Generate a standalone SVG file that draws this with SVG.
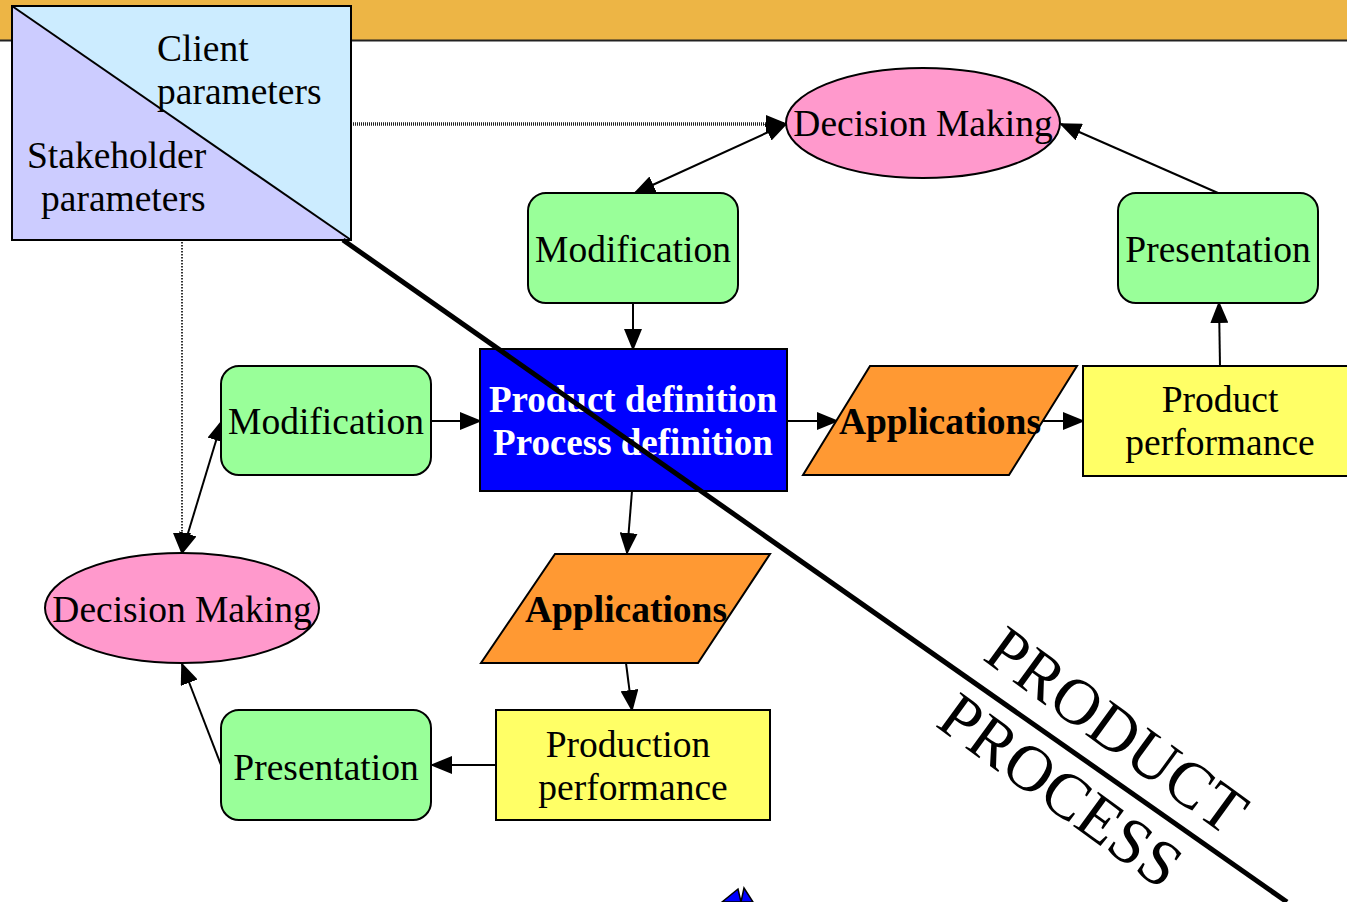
<svg xmlns="http://www.w3.org/2000/svg" width="1347" height="902" viewBox="0 0 1347 902" font-family="Liberation Serif">
<defs>
<marker id="ah" markerWidth="22" markerHeight="18" refX="20" refY="9" orient="auto-start-reverse" markerUnits="userSpaceOnUse">
<path d="M0,0 L22,9 L0,18 Z" fill="#000"/>
</marker>
<style>
.t{font-size:37.5px;fill:#000;text-anchor:middle}
.tb{font-size:37.5px;font-weight:bold;text-anchor:middle}
.g{fill:#99FF99;stroke:#000;stroke-width:2}
.p{fill:#FF99CC;stroke:#000;stroke-width:2}
.o{fill:#FF9933;stroke:#000;stroke-width:2}
.y{fill:#FFFF66;stroke:#000;stroke-width:2}
.c{stroke:#000;stroke-width:2;fill:none}
.big{font-size:65px;fill:#000;text-anchor:middle}
</style>
</defs>
<rect x="0" y="0" width="1347" height="902" fill="#fff"/>
<rect x="0" y="0" width="1347" height="40" fill="#EDB545"/>
<line x1="0" y1="40.5" x2="1347" y2="40.5" stroke="#222" stroke-width="2"/>

<g id="params">
<polygon points="12,6 351,6 351,240" fill="#CCECFF"/>
<polygon points="12,6 351,240 12,240" fill="#CCCCFF"/>
<rect x="12" y="6" width="339" height="234" fill="none" stroke="#000" stroke-width="2"/>
<line x1="12" y1="6" x2="351" y2="240" stroke="#000" stroke-width="2"/>
<text class="t" font-family="Liberation Serif" x="157" y="61" style="text-anchor:start">Client</text>
<text class="t" font-family="Liberation Serif" x="157" y="104" style="text-anchor:start">parameters</text>
<text class="t" font-family="Liberation Serif" x="27" y="168" style="text-anchor:start">Stakeholder</text>
<text class="t" font-family="Liberation Serif" x="41" y="211" style="text-anchor:start">parameters</text>
</g>

<g id="connectors">
<line x1="353" y1="124" x2="786" y2="124" stroke="#222" stroke-width="3.5" stroke-dasharray="1 1" marker-end="url(#ah)"/>
<line x1="182" y1="242" x2="182" y2="553" stroke="#333" stroke-width="2" stroke-dasharray="1.5 1.5" marker-end="url(#ah)"/>
<line class="c" x1="635" y1="193" x2="786" y2="124" marker-start="url(#ah)" marker-end="url(#ah)"/>
<line class="c" x1="1218" y1="193" x2="1061" y2="124" marker-end="url(#ah)"/>
<line class="c" x1="1220" y1="366" x2="1219" y2="303" marker-end="url(#ah)"/>
<line class="c" x1="633" y1="303" x2="633" y2="349" marker-end="url(#ah)"/>
<line class="c" x1="787" y1="421" x2="837" y2="421" marker-end="url(#ah)"/>
<line class="c" x1="1040" y1="421" x2="1083" y2="421" marker-end="url(#ah)"/>
<line class="c" x1="431" y1="421" x2="480" y2="421" marker-end="url(#ah)"/>
<line class="c" x1="182" y1="553" x2="222" y2="421" marker-start="url(#ah)" marker-end="url(#ah)"/>
<line class="c" x1="632" y1="491" x2="627" y2="553" marker-end="url(#ah)"/>
<line class="c" x1="626" y1="663" x2="632" y2="710" marker-end="url(#ah)"/>
<line class="c" x1="496" y1="765" x2="432" y2="765" marker-end="url(#ah)"/>
<line class="c" x1="221" y1="765" x2="182" y2="664" marker-end="url(#ah)"/>
</g>

<g id="decision-top">
<ellipse class="p" cx="923" cy="123" rx="137" ry="55"/>
<text class="t" font-family="Liberation Serif" x="923" y="136">Decision Making</text>
</g>
<g id="modification-top">
<rect class="g" x="528" y="193" width="210" height="110" rx="18"/>
<text class="t" font-family="Liberation Serif" x="633" y="262">Modification</text>
</g>
<g id="presentation-top">
<rect class="g" x="1118" y="193" width="200" height="110" rx="18"/>
<text class="t" font-family="Liberation Serif" x="1218" y="262">Presentation</text>
</g>
<g id="modification-left">
<rect class="g" x="221" y="366" width="210" height="109" rx="18"/>
<text class="t" font-family="Liberation Serif" x="326" y="434">Modification</text>
</g>
<g id="definition">
<rect x="480" y="349" width="307" height="142" fill="#0000FF" stroke="#000" stroke-width="2"/>
<text class="tb" font-family="Liberation Serif" x="633" y="412" fill="#fff" style="font-size:37px">Product definition</text>
<text class="tb" font-family="Liberation Serif" x="633" y="455" fill="#fff" style="font-size:37px">Process definition</text>
</g>
<g id="applications-right">
<polygon class="o" points="870,366 1077,366 1009,475 803,475"/>
<text class="tb" font-family="Liberation Serif" x="940" y="434" fill="#000">Applications</text>
</g>
<g id="product-performance">
<rect class="y" x="1083" y="366" width="270" height="110"/>
<text class="t" font-family="Liberation Serif" x="1220" y="412">Product</text>
<text class="t" font-family="Liberation Serif" x="1220" y="455">performance</text>
</g>
<g id="decision-left">
<ellipse class="p" cx="182" cy="608" rx="137" ry="55"/>
<text class="t" font-family="Liberation Serif" x="182" y="622">Decision Making</text>
</g>
<g id="applications-bottom">
<polygon class="o" points="555,554 770,554 698,663 481,663"/>
<text class="tb" font-family="Liberation Serif" x="626" y="622" fill="#000">Applications</text>
</g>
<g id="production-performance">
<rect class="y" x="496" y="710" width="274" height="110"/>
<text class="t" font-family="Liberation Serif" x="628" y="757">Production</text>
<text class="t" font-family="Liberation Serif" x="633" y="800">performance</text>
</g>
<g id="presentation-left">
<rect class="g" x="221" y="710" width="210" height="110" rx="18"/>
<text class="t" font-family="Liberation Serif" x="326" y="780">Presentation</text>
</g>

<g id="divider">
<line x1="343" y1="240" x2="1287" y2="902" stroke="#000" stroke-width="5"/>
<text class="big" font-family="Liberation Serif" transform="translate(1104,748) rotate(36)">PRODUCT</text>
<text class="big" font-family="Liberation Serif" transform="translate(1048,808) rotate(36)">PROCESS</text>
</g>

<g id="bottom-shape">
<polygon points="722,902 738,889 741,902" fill="#0000FF" stroke="#000" stroke-width="1.5"/>
<polygon points="741,902 744,888 753,902" fill="#0000FF" stroke="#000" stroke-width="1.5"/>
</g>
</svg>
